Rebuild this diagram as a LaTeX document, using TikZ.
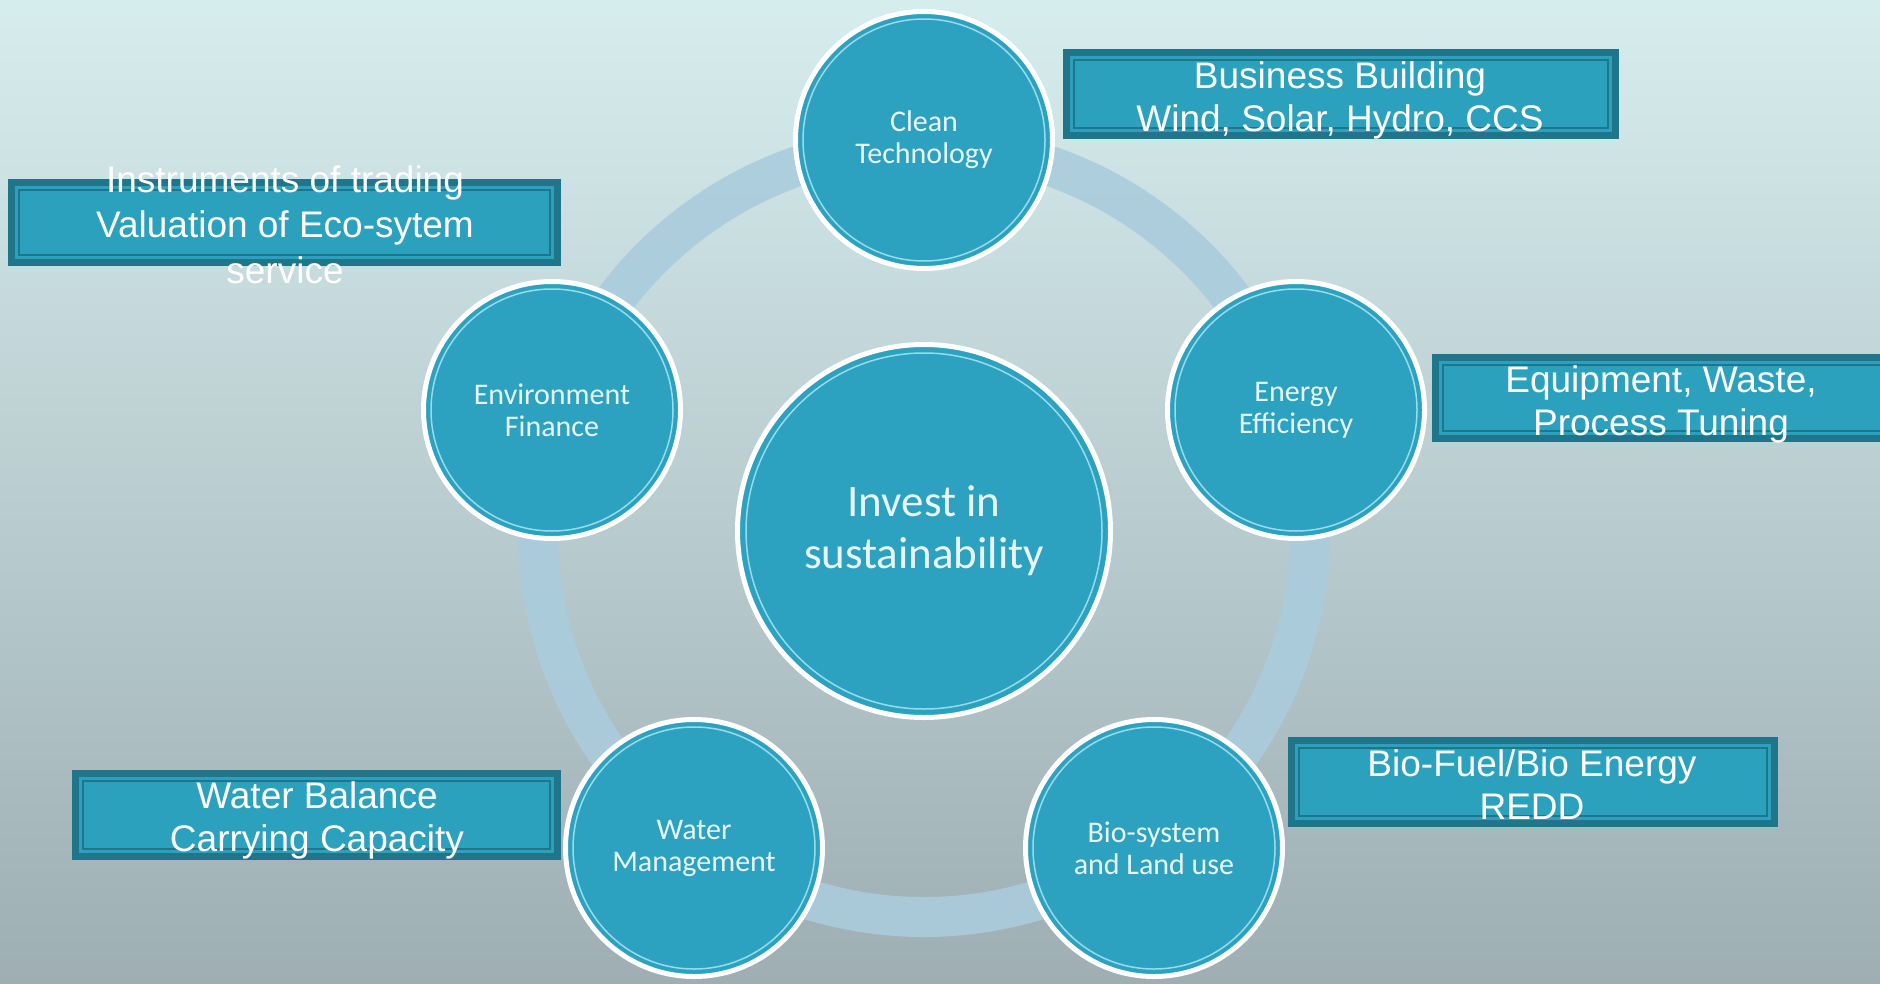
\documentclass[tikz,border=0pt]{standalone}
\usepackage{fontspec}
\setmainfont{Liberation Sans}
\newfontfamily\calib{Carlito}
\definecolor{cfill}{RGB}{44,162,192}
\definecolor{cline}{RGB}{150,220,236}
\definecolor{ctext}{RGB}{232,246,250}
\definecolor{bfill}{RGB}{43,161,190}
\definecolor{bdark}{RGB}{31,118,139}
\definecolor{ringc}{RGB}{170,204,220}
\definecolor{bgtop}{RGB}{214,237,238}
\definecolor{bgmid}{RGB}{188,206,210}
\definecolor{bgbot}{RGB}{158,174,179}
\begin{document}
\begin{tikzpicture}[x=1pt,y=-1pt,
  sat/.style={circle, fill=cfill, draw=white, line width=5pt, minimum size=257pt, inner sep=0pt,
    text=ctext, align=center, font=\calib\fontsize{30}{32}\selectfont,
    path picture={\draw[cline, line width=1.5pt] (path picture bounding box.center) circle[radius=121pt];}},
  hubstyle/.style={circle, fill=cfill, draw=white, line width=5pt, minimum size=373pt, inner sep=0pt,
    text=ctext, align=center, font=\calib\fontsize{45}{52}\selectfont,
    path picture={\draw[cline, line width=1.5pt] (path picture bounding box.center) circle[radius=178pt];}},
  infobox/.style={rectangle, fill=bfill, draw=bdark, line width=7pt, inner sep=0pt,
    path picture={\draw[bdark, line width=2pt]
      ([xshift=7.5pt,yshift=-7.5pt]path picture bounding box.north west) rectangle
      ([xshift=-7.5pt,yshift=7.5pt]path picture bounding box.south east);}},
  infotext/.style={text=white, align=center, inner sep=0pt, font=\fontsize{37}{43}\selectfont}
]
\useasboundingbox (0,0) rectangle (1880,983);
\clip (0,0) rectangle (1880,983);
\shade[top color=bgtop, middle color=bgmid, bottom color=bgbot] (0,0) rectangle (1880,983);

\coordinate (o) at (924,531);
\draw[ringc, line width=40pt, opacity=0.9] (o) circle[radius=386pt];

\node[hubstyle] (hub) at (o) {Invest in\\sustainability};
\node[sat] (clean) at (924,140) {Clean\\Technology};
\node[sat] (energy) at (1296,410) {Energy\\Efficiency};
\node[sat] (bio) at (1154,848) {Bio-system\\and Land use};
\node[sat] (water) at (694,848) {Water\\Management};
\node[sat] (env) at (552,410) {Environment\\Finance};

\node[infobox, minimum width=549pt, minimum height=83pt] (b1) at (1341,94) {};
\node[infotext] (t1) at (1340,100) {Business Building\\Wind, Solar, Hydro, CCS};

\node[infobox, minimum width=546pt, minimum height=80pt] (b2) at (284.5,222.5) {};
\node[infotext, font=\fontsize{37}{45.5}\selectfont] (t2) at (285,224.5) {Instruments of trading\\Valuation of Eco-sytem\\service};

\node[infobox, minimum width=480pt, minimum height=81pt] (b3) at (1675,398) {};
\node[infotext] (t3) at (1661,404) {Equipment, Waste,\\Process Tuning};

\node[infobox, minimum width=483pt, minimum height=83pt] (b4) at (1533,782) {};
\node[infotext] (t4) at (1532,785) {Bio-Fuel/Bio Energy\\REDD};

\node[infobox, minimum width=482pt, minimum height=83pt] (b5) at (316.5,815) {};
\node[infotext] (t5) at (317,820) {Water Balance\\Carrying Capacity};
\end{tikzpicture}
\end{document}
